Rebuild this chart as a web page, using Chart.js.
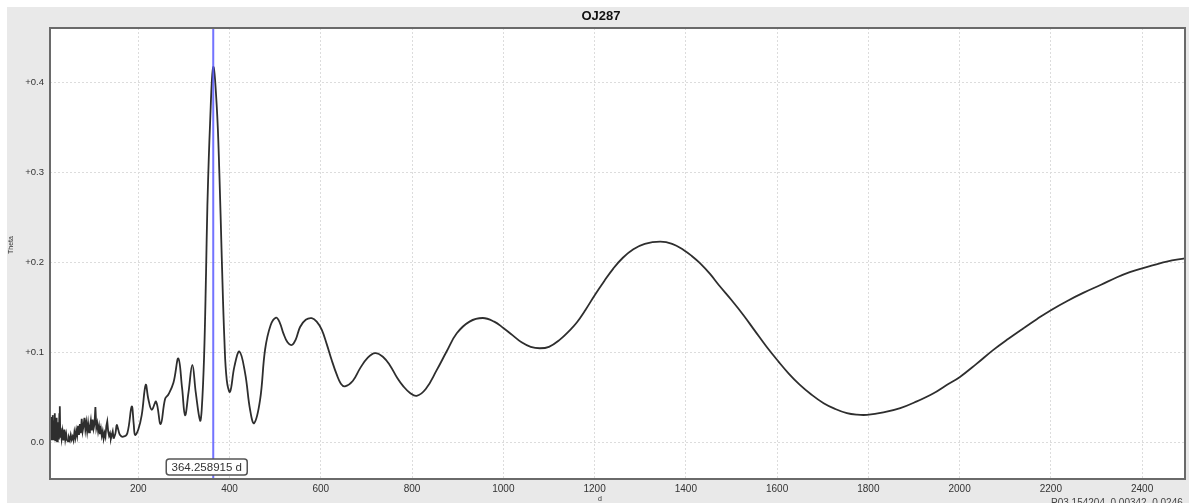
<!DOCTYPE html>
<html>
<head>
<meta charset="utf-8">
<title>OJ287 periodogram</title>
<script src="https://cdn.jsdelivr.net/npm/chart.js@4/dist/chart.umd.min.js"></script>
<style>
  html, body { margin: 0; padding: 0; background: #fff; }
  #wrap { width: 1189px; height: 503px; }
</style>
</head>
<body>
<div id="wrap"><canvas id="c" width="1189" height="503"></canvas></div>
<script>
// Trial period (days) and periodogram strength (Theta) for OJ287.
const periodDays = [
  6, 7, 8, 9, 10, 11, 12, 13, 14, 15, 16, 17, 18, 19, 20, 21, 22, 23, 24, 25, 26, 27, 28, 29, 30,
  32, 34, 36, 38, 40, 42, 44,
  46, 48, 50, 52, 54, 56, 58, 60, 62, 64, 66, 68, 70, 72, 74, 76, 78, 80, 82, 84,
  86, 88, 90, 92, 94, 96, 98, 100, 102, 104, 106, 108, 110, 112, 114, 116, 118, 120, 122, 124,
  126, 128, 130, 132, 134, 136, 138, 140, 142, 144, 146,
  150, 152.8, 156, 160, 167, 176, 185.6, 190, 193, 200, 207.5, 216.3, 222, 229.5, 239, 249,
  258.7, 266, 277, 287.8, 296, 302.5, 310, 318.5, 326, 335.4, 339, 344.2, 348.5, 351.4, 357.3,
  364.258915, 372, 377.7, 382.9, 388.7, 393.9, 401, 410.6, 421.6, 434, 445, 453.7, 466.9, 477.9,
  490, 502, 510, 518, 527, 536.4, 545, 554.6, 567, 580.2, 591, 602, 613, 624, 635, 644, 653,
  670, 686, 703, 719, 736, 752, 768, 781, 795, 810, 830, 854, 876, 898, 926, 955, 980,
  1000, 1020, 1040, 1060, 1080, 1100, 1124, 1145, 1161, 1180, 1201, 1221, 1241, 1262, 1285, 1310,
  1344, 1370, 1395, 1413, 1431, 1453, 1475, 1500, 1526, 1551, 1577, 1603, 1626, 1650, 1675, 1702,
  1727, 1753, 1775, 1797, 1833, 1870, 1905, 1943, 1970, 2000, 2037, 2074, 2107, 2140, 2170, 2201,
  2236, 2272, 2310, 2345, 2373, 2400, 2427, 2454, 2494
];
const thetaValues = [
  0.004, 0.021, 0.006, 0.028, 0.002, 0.017, 0.008, 0.030, 0.003, 0.024, 0.009, 0.032, 0.002, 0.019, 0.006, 0.027, 0.001, 0.015, 0.007, 0.022, 0.003, 0.031, 0.040, 0.006, 0.016,
  0.004, 0.012, 0.002, 0.014, 0.003, 0.009, 0.002,
  0.001, 0.005, 0.002, 0.008, 0.003, 0.006, 0.002, 0.011, 0.005, 0.013, 0.007, 0.018, 0.008, 0.020, 0.010, 0.026, 0.012, 0.018, 0.027, 0.014,
  0.022, 0.012, 0.021, 0.011, 0.017, 0.024, 0.013, 0.025, 0.015, 0.020, 0.039, 0.016, 0.021, 0.012, 0.018, 0.009, 0.015, 0.007, 0.012, 0.004,
  0.010, 0.006, 0.018, 0.023, 0.012, 0.007, 0.010, 0.004, 0.008, 0.012, 0.004,
  0.010, 0.019, 0.014, 0.008, 0.006, 0.010, 0.0396, 0.020, 0.008, 0.014, 0.030, 0.0637, 0.048, 0.036, 0.045, 0.020,
  0.048, 0.053, 0.066, 0.093, 0.060, 0.030, 0.055, 0.086, 0.055, 0.024, 0.036, 0.095, 0.188, 0.262, 0.354,
  0.417, 0.373, 0.299, 0.206, 0.114, 0.069, 0.056, 0.084, 0.1007, 0.077, 0.036, 0.021, 0.047, 0.103,
  0.130, 0.1385, 0.133, 0.121, 0.111, 0.108, 0.114, 0.128, 0.136, 0.1378, 0.134, 0.125, 0.109, 0.091, 0.075, 0.065, 0.062,
  0.068, 0.082, 0.094, 0.099, 0.095, 0.085, 0.071, 0.062, 0.055, 0.0514, 0.059, 0.080, 0.101, 0.121, 0.134, 0.138, 0.134,
  0.127, 0.119, 0.111, 0.106, 0.1044, 0.106, 0.114, 0.124, 0.133, 0.147, 0.164, 0.179, 0.193, 0.205, 0.2144, 0.2205,
  0.2229, 0.2205, 0.2137, 0.207, 0.199, 0.187, 0.173, 0.158, 0.1414, 0.124, 0.106, 0.0896, 0.076, 0.0637, 0.053, 0.0433,
  0.037, 0.0322, 0.0305, 0.0303, 0.033, 0.0378, 0.045, 0.0544, 0.063, 0.0722, 0.087, 0.1026, 0.115, 0.1267, 0.137, 0.147,
  0.157, 0.1662, 0.175, 0.1833, 0.189, 0.1933, 0.197, 0.2007, 0.2044
];

// Periods up to this value are drawn point to point (noisy short-period end).
const noisyLimit = 146;

const xTicks = [200, 400, 600, 800, 1000, 1200, 1400, 1600, 1800, 2000, 2200, 2400];
const yTicks = [0.0, 0.1, 0.2, 0.3, 0.4];
const yTickLabels = ['0.0', '+0.1', '+0.2', '+0.3', '+0.4'];

const markedPeriod = 364.258915;
const titleText = 'OJ287';
const statusText = 'P03.154204, 0.00342, 0.0246';

const points = periodDays.map((d, i) => ({ x: d, y: thetaValues[i] }));
const noisyPoints = points.filter(p => p.x <= noisyLimit);
const smoothPoints = [noisyPoints[noisyPoints.length - 1]].concat(points.filter(p => p.x > noisyLimit));

const FONT = "'Liberation Sans', Arial, sans-serif";

const decor = {
  id: 'decor',
  beforeDraw(chart) {
    const { ctx, chartArea: a, width, height } = chart;
    ctx.save();
    ctx.fillStyle = '#ffffff';
    ctx.fillRect(0, 0, width, height);
    ctx.fillStyle = '#e9e9e9';
    ctx.fillRect(7, 7, width - 7, height - 7);
    ctx.fillStyle = '#ffffff';
    ctx.fillRect(a.left, a.top, a.right - a.left, a.bottom - a.top);
    ctx.restore();
  },
  afterDatasetsDraw(chart) {
    const { ctx, chartArea: a, scales } = chart;
    const px = scales.x.getPixelForValue(markedPeriod);
    ctx.save();
    ctx.strokeStyle = 'rgba(90, 90, 255, 0.85)';
    ctx.lineWidth = 2;
    ctx.beginPath();
    ctx.moveTo(px, a.top);
    ctx.lineTo(px, a.bottom);
    ctx.stroke();
    ctx.restore();
  },
  afterDraw(chart) {
    const { ctx, chartArea: a, scales } = chart;
    ctx.save();
    // frame around the plotting area
    ctx.strokeStyle = '#6a6a6a';
    ctx.lineWidth = 2;
    ctx.strokeRect(a.left, a.top, a.right - a.left, a.bottom - a.top);

    // title
    ctx.fillStyle = '#111';
    ctx.font = 'bold 13px ' + FONT;
    ctx.textAlign = 'center';
    ctx.textBaseline = 'middle';
    ctx.fillText(titleText, 601, 16);

    // axis titles
    ctx.font = '7px ' + FONT;
    ctx.fillStyle = '#333';
    ctx.save();
    ctx.translate(11, 245);
    ctx.rotate(-Math.PI / 2);
    ctx.fillText('Theta', 0, 0);
    ctx.restore();
    ctx.fillText('d', 600, 499);

    // status text at the lower right, partly below the edge
    ctx.font = '10px ' + FONT;
    ctx.textAlign = 'left';
    ctx.fillStyle = '#444';
    ctx.fillText(statusText, 1051, 503);

    // period label on the marker line
    const px = scales.x.getPixelForValue(markedPeriod);
    const bw = 81, bh = 16;
    const bx = px - 47, by = 459;
    ctx.fillStyle = '#ffffff';
    ctx.strokeStyle = '#555';
    ctx.lineWidth = 1.5;
    ctx.beginPath();
    ctx.roundRect(bx, by, bw, bh, 3);
    ctx.fill();
    ctx.stroke();
    ctx.fillStyle = '#333';
    ctx.font = '11.5px ' + FONT;
    ctx.textAlign = 'center';
    ctx.textBaseline = 'middle';
    ctx.fillText(markedPeriod.toFixed(6) + ' d', bx + bw / 2, by + bh / 2 + 0.5);
    ctx.restore();
  }
};

const lineStyle = {
  borderColor: '#2e2e2e',
  borderWidth: 1.8,
  pointRadius: 0,
  fill: false
};

new Chart(document.getElementById('c'), {
  type: 'line',
  data: {
    datasets: [
      Object.assign({ label: 'Theta (short periods)', data: noisyPoints, tension: 0 }, lineStyle),
      Object.assign({ label: 'Theta', data: smoothPoints, tension: 0.4 }, lineStyle)
    ]
  },
  options: {
    responsive: false,
    animation: false,
    layout: { padding: { left: 7, top: 28, right: 4, bottom: 0 } },
    plugins: {
      legend: { display: false },
      tooltip: { enabled: false },
      title: { display: false }
    },
    scales: {
      x: {
        type: 'linear',
        min: 6.5,
        max: 2494,
        afterBuildTicks(scale) { scale.ticks = xTicks.map(v => ({ value: v })); },
        afterFit(scale) { scale.height = 24; },
        grid: { color: '#dcdcdc', lineWidth: 1, drawTicks: false },
        border: { display: false, dash: [2, 2] },
        ticks: {
          padding: 4,
          maxRotation: 0,
          autoSkip: false,
          color: '#333',
          font: { family: FONT, size: 10 },
          callback: (v) => String(v)
        }
      },
      y: {
        type: 'linear',
        min: -0.041,
        max: 0.4605,
        afterBuildTicks(scale) { scale.ticks = yTicks.map(v => ({ value: v })); },
        afterFit(scale) { scale.width = 43; },
        grid: { color: '#dcdcdc', lineWidth: 1, drawTicks: false },
        border: { display: false, dash: [2, 2] },
        ticks: {
          padding: 6,
          autoSkip: false,
          color: '#333',
          font: { family: FONT, size: 9.5 },
          callback: (v, i) => yTickLabels[i]
        }
      }
    }
  },
  plugins: [decor]
});
</script>
</body>
</html>
